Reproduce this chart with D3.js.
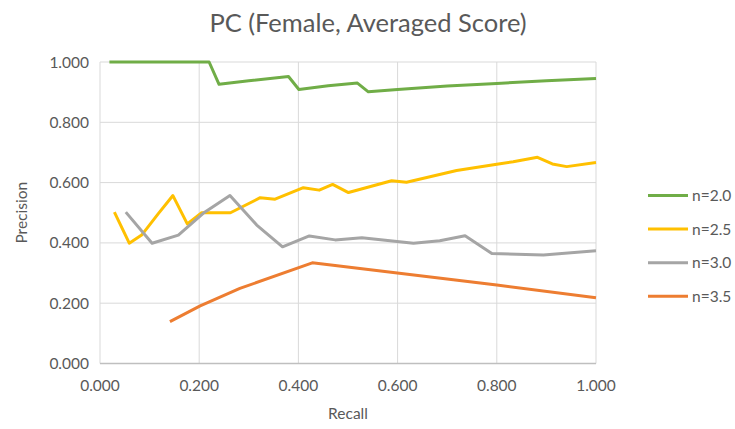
<!DOCTYPE html>
<html><head><meta charset="utf-8">
<script src="https://cdn.jsdelivr.net/npm/d3@7"></script>
<style>body{margin:0;background:#fff;}svg{display:block;font-family:Lato,"Open Sans",sans-serif;}</style>
</head><body><svg id="c" width="735" height="429"></svg>
<script>
const title = "PC (Female, Averaged Score)";
const xTicks = [0, 0.2, 0.4, 0.6, 0.8, 1.0];
const yTicks = [0, 0.2, 0.4, 0.6, 0.8, 1.0];
const seriesNames = ["n=2.0", "n=2.5", "n=3.0", "n=3.5"];
const seriesColors = ["#70ad47", "#ffc000", "#a5a5a5", "#ed7d31"];
const n20 = [[0.019,1.0],[0.220,1.0],[0.240,0.926],[0.300,0.938],[0.380,0.952],[0.401,0.909],[0.460,0.921],[0.519,0.930],[0.541,0.901],[0.600,0.909],[0.700,0.920],[0.800,0.929],[0.900,0.938],[1.0,0.945]];
const n25 = [[0.029,0.502],[0.059,0.399],[0.084,0.426],[0.118,0.498],[0.147,0.557],[0.176,0.463],[0.205,0.500],[0.263,0.500],[0.323,0.550],[0.353,0.545],[0.410,0.583],[0.442,0.575],[0.469,0.594],[0.501,0.567],[0.588,0.606],[0.618,0.601],[0.719,0.640],[0.800,0.661],[0.833,0.669],[0.882,0.684],[0.912,0.662],[0.941,0.653],[1.0,0.667]];
const n30 = [[0.052,0.502],[0.105,0.399],[0.158,0.426],[0.208,0.498],[0.262,0.557],[0.316,0.459],[0.368,0.387],[0.422,0.423],[0.474,0.410],[0.528,0.417],[0.632,0.399],[0.685,0.407],[0.736,0.424],[0.790,0.365],[0.894,0.360],[1.0,0.374]];
const n35 = [[0.141,0.139],[0.202,0.191],[0.282,0.249],[0.428,0.334],[0.800,0.260],[1.0,0.218]];
const seriesData = [n20, n25, n30, n35];

const svg = d3.select("#c");
const x = d3.scaleLinear().domain([0,1]).range([100,596]);
const y = d3.scaleLinear().domain([0,1]).range([363.5,62]);
const txt = "#595959";

svg.append("g").selectAll("line").data(yTicks.filter(d=>d>0)).join("line")
  .attr("x1",x(0)).attr("x2",x(1)).attr("y1",d=>y(d)).attr("y2",d=>y(d))
  .attr("stroke","#d9d9d9").attr("stroke-width",1);
svg.append("g").selectAll("line").data(xTicks).join("line")
  .attr("y1",y(0)).attr("y2",y(1)).attr("x1",d=>x(d)).attr("x2",d=>x(d))
  .attr("stroke","#d9d9d9").attr("stroke-width",1);
svg.append("line").attr("x1",x(0)).attr("x2",x(1)).attr("y1",y(0)).attr("y2",y(0))
  .attr("stroke","#bfbfbf").attr("stroke-width",1.5);

svg.append("g").selectAll("text").data(yTicks).join("text")
  .attr("x",89).attr("y",d=>y(d)).attr("dy","0.36em").attr("text-anchor","end")
  .attr("font-size",15.5).attr("fill",txt).text(d=>d3.format(".3f")(d));
svg.append("g").selectAll("text").data(xTicks).join("text")
  .attr("x",d=>x(d)).attr("y",391).attr("text-anchor","middle")
  .attr("font-size",15.5).attr("fill",txt).text(d=>d3.format(".3f")(d));

svg.append("text").attr("x",x(0.5)).attr("y",419).attr("text-anchor","middle")
  .attr("font-size",15.5).attr("fill",txt).text("Recall");
svg.append("text").attr("transform",`translate(27,${y(0.5)}) rotate(-90)`).attr("text-anchor","middle")
  .attr("font-size",15.5).attr("fill",txt).text("Precision");

svg.append("text").attr("x",368).attr("y",31.5).attr("text-anchor","middle")
  .attr("font-size",25.5).attr("fill",txt).text(title);

const line = d3.line().x(d=>x(d[0])).y(d=>y(d[1]));
svg.append("g").selectAll("path").data(seriesData).join("path")
  .attr("d",line).attr("fill","none").attr("stroke",(d,i)=>seriesColors[i])
  .attr("stroke-width",3).attr("stroke-linejoin","round");

const leg = svg.append("g").selectAll("g").data(seriesNames).join("g")
  .attr("transform",(d,i)=>`translate(648,${195.5+i*33.6})`);
leg.append("line").attr("x1",0).attr("x2",40).attr("stroke",(d,i)=>seriesColors[i]).attr("stroke-width",3);
leg.append("text").attr("x",44).attr("dy","0.36em").attr("font-size",15.5).attr("fill",txt).text(d=>d);
</script></body></html>
